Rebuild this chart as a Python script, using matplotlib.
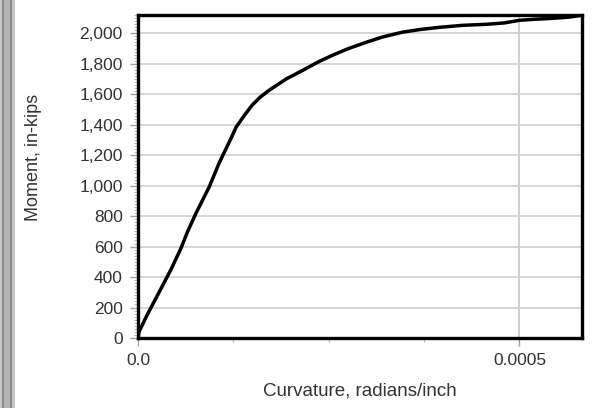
import matplotlib
matplotlib.use("Agg")
from matplotlib import pyplot as plt
from matplotlib.patches import Rectangle
from matplotlib.ticker import MultipleLocator, FixedLocator, FuncFormatter

plt.rcParams['font.family'] = ['Liberation Sans', 'DejaVu Sans']

# moment-curvature curve
curvature = [0.0, 0.0000013, 0.0000118, 0.0000276, 0.0000433, 0.0000564, 0.0000643,
             0.0000761, 0.0000932, 0.0001063, 0.0001220, 0.0001286, 0.0001400,
             0.0001496, 0.0001600, 0.0001719, 0.0001942, 0.0002152, 0.0002375,
             0.0002546, 0.0002760, 0.0002992, 0.0003200, 0.0003465, 0.0003700,
             0.0003950, 0.0004250, 0.0004567, 0.0004800, 0.0005000, 0.0005200,
             0.0005433, 0.0005650, 0.0005810]
moment = [0, 40, 150, 300, 450, 590, 690, 820, 990, 1148, 1311, 1384, 1465,
          1528, 1580, 1626, 1700, 1755, 1815, 1855, 1900, 1941, 1975, 2007,
          2025, 2039, 2052, 2059, 2068, 2085, 2092, 2098, 2106, 2118]

xticks = [0.0, 0.0005]
xtick_labels = ["0.0", "0.0005"]

W, H = 595, 408
fig = plt.figure(figsize=(W / 100, H / 100), dpi=100)
ax = fig.add_axes([138 / W, 1 - 338 / H, (582 - 138) / W, (338 - 15) / H])

ax.plot(curvature, moment, color='black', lw=2.5, solid_capstyle='round',
        solid_joinstyle='round', zorder=3)

ax.set_xlim(0, 0.000582)
ax.set_ylim(0, 2120)

ax.xaxis.set_major_locator(FixedLocator(xticks))
ax.xaxis.set_major_formatter(FuncFormatter(lambda v, p: xtick_labels[p] if p is not None and p < len(xtick_labels) else ""))
ax.xaxis.set_minor_locator(MultipleLocator(0.000125))
ax.yaxis.set_major_locator(MultipleLocator(200))
ax.yaxis.set_major_formatter(FuncFormatter(lambda v, p: "{:,.0f}".format(v)))
ax.yaxis.set_minor_locator(MultipleLocator(20))

ax.tick_params(axis='both', which='major', color='#a0a0a0', length=6, width=1,
               labelsize=12.5, labelcolor='#333333', pad=5)
ax.tick_params(axis='both', which='minor', color='#b8b8b8', length=3, width=0.8)

for y in range(200, 2001, 200):
    ax.axhline(y, color='#d4d4d4', lw=1.4, zorder=1)
ax.axvline(0.0005, color='#cfcfcf', lw=1.4, zorder=1)

for s in ax.spines.values():
    s.set_linewidth(2.4)
    s.set_color('black')

fig.text(360 / W, 1 - 391 / H, "Curvature, radians/inch", ha='center', va='center',
         fontsize=13.5, color='#333333')
fig.text(33 / W, 1 - 157 / H, "Moment, in-kips", ha='center', va='center',
         rotation=90, fontsize=13, color='#333333')

# window frame strip on the left
for x0, w, c in [(0, 2, '#c8c8c8'), (2, 2, '#8c8c8c'), (4, 6, '#b4b4b4'),
                 (10, 2, '#888888'), (12, 3, '#c4c4c4')]:
    fig.patches.append(Rectangle((x0 / W, 0), w / W, 1, transform=fig.transFigure,
                                 facecolor=c, edgecolor='none'))

fig.savefig("out.png", dpi=100)
